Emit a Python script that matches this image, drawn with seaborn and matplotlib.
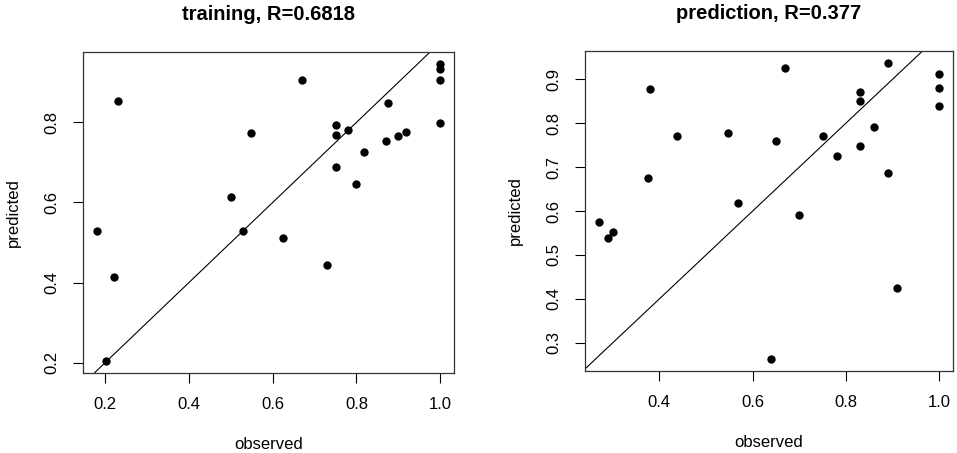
import matplotlib
matplotlib.use("Agg")
import numpy as np
import pandas as pd
import matplotlib.pyplot as plt
import seaborn as sns

# training set (observed vs predicted)
train_obs = [0.230, 0.180, 0.221, 0.201, 0.501, 0.529, 0.549, 0.625, 0.669, 0.730,
             0.751, 0.751, 0.751, 0.779, 0.798, 0.819, 0.871, 0.875, 0.898, 0.918,
             1.0, 1.0, 1.0, 1.0]
train_pred = [0.853, 0.528, 0.415, 0.204, 0.614, 0.530, 0.774, 0.512, 0.907, 0.443,
              0.794, 0.768, 0.689, 0.782, 0.646, 0.725, 0.753, 0.848, 0.766, 0.777,
              0.946, 0.933, 0.905, 0.799]

# prediction set
test_obs = [0.270, 0.290, 0.300, 0.375, 0.379, 0.438, 0.548, 0.569, 0.640, 0.649,
            0.669, 0.699, 0.750, 0.780, 0.830, 0.830, 0.830, 0.860, 0.889, 0.889,
            0.910, 1.0, 1.0, 1.0]
test_pred = [0.576, 0.539, 0.552, 0.674, 0.878, 0.770, 0.778, 0.618, 0.263, 0.759,
             0.925, 0.590, 0.770, 0.726, 0.870, 0.850, 0.747, 0.791, 0.937, 0.686,
             0.424, 0.911, 0.880, 0.840]

titles = ["training, R=0.6818", "prediction, R=0.377"]
xticks = [[0.2, 0.4, 0.6, 0.8, 1.0], [0.4, 0.6, 0.8, 1.0]]
yticks = [[0.2, 0.4, 0.6, 0.8], [0.3, 0.4, 0.5, 0.6, 0.7, 0.8, 0.9]]

sns.set_style("white")
plt.rcParams['font.family'] = ['Liberation Sans', 'DejaVu Sans']
plt.rcParams['text.color'] = 'black'
plt.rcParams['axes.labelcolor'] = 'black'
plt.rcParams['xtick.color'] = 'black'
plt.rcParams['ytick.color'] = 'black'

fig = plt.figure(figsize=(9.57, 4.53), dpi=100)
axes = [fig.add_axes([0.0867, 0.1766, 0.3877, 0.7086]),
        fig.add_axes([0.6113, 0.1810, 0.3845, 0.7064])]

datasets = [(train_obs, train_pred), (test_obs, test_pred)]

for i, ax in enumerate(axes):
    obs, pred = datasets[i]
    df = pd.DataFrame({'observed': obs, 'predicted': pred})
    sns.scatterplot(data=df, x='observed', y='predicted', ax=ax,
                    color='black', edgecolor='black', linewidth=0, s=36, zorder=3)
    ax.axline((0, 0), slope=1, color='black', linewidth=0.8)

    # R-style 4% padding
    xr = max(obs) - min(obs)
    yr = max(pred) - min(pred)
    ax.set_xlim(min(obs) - 0.04 * xr, max(obs) + 0.04 * xr)
    ax.set_ylim(min(pred) - 0.04 * yr, max(pred) + 0.04 * yr)

    ax.set_xticks(xticks[i])
    ax.set_yticks(yticks[i])
    ax.set_xticklabels([f"{v:.1f}" for v in xticks[i]])
    ax.set_yticklabels([f"{v:.1f}" for v in yticks[i]], rotation=90, va='center')
    ax.tick_params(axis='both', direction='out', length=7, width=0.8,
                   color='black', labelcolor='black', labelsize=12, pad=10,
                   bottom=True, left=True)

    for sp in ax.spines.values():
        sp.set_visible(True)
        sp.set_color('#333333')
        sp.set_linewidth(0.9)

    ax.set_xlabel('observed', fontsize=12, labelpad=18)
    ax.set_ylabel('predicted', fontsize=12, labelpad=17)
    ax.set_title(titles[i], fontsize=14.5, fontweight='bold', pad=23)

fig.savefig('out.png', dpi=100)
